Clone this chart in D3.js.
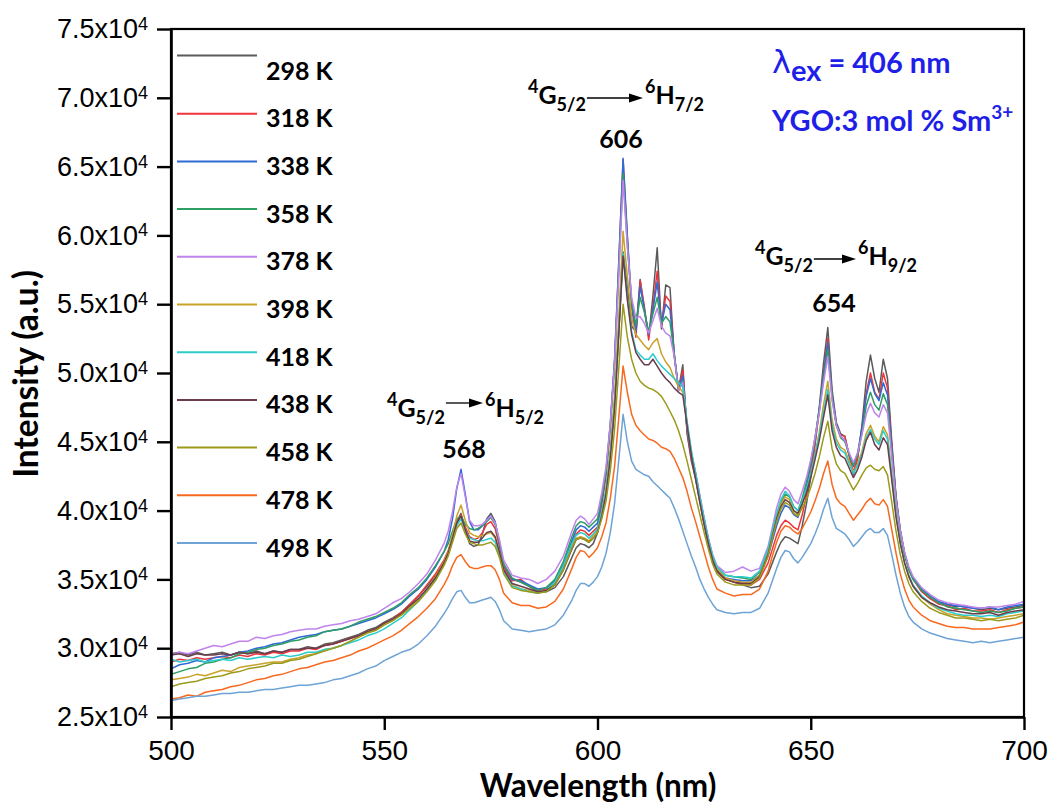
<!DOCTYPE html>
<html><head><meta charset="utf-8">
<script src="https://cdn.jsdelivr.net/npm/d3@7"></script>
<style>body{margin:0;background:#fff}</style>
</head><body>
<svg id="c" width="1051" height="804"></svg>
<script>
// ---------------- DATA ----------------
const wavelengths = [
 500,502,504,506,508,510,512,514,516,518,
 520,522,524,526,528,530,532,534,536,538,
 540,542,544,546,548,550,552,554,556,558,
 560,562,564,565,566,567,568,569,570,571,
 572,573,574,575,576,577,578,580,582,584,
 586,588,590,592,594,595,596,597,598,599,
 600,601,602,603,604,605,606,607,608,609,
 610,611,612,613,614,615,616,617,618,619,
 620,621,622,623,624,625,626,627,628,630,
 632,634,636,638,640,641,642,643,644,645,
 646,647,648,649,650,651,652,653,654,655,
 656,657,658,659,660,661,662,663,664,665,
 666,667,668,669,670,671,672,673,674,676,
 678,680,682,684,686,688,690,692,694,696,
 698,700];
const temperatures = ["298 K","318 K","338 K","358 K","378 K","398 K","418 K","438 K","458 K","478 K","498 K"];
const colors = ["#5a5a5a","#f0343c","#2f6ad6","#2e9e62","#c084ec","#c9a229","#2ccccc","#6b3d4c","#9b9a1c","#f8691f","#6ea3d6"];
// intensities in units of 10^3 counts
const i298 = [
 29.6,29.7,29.5,29.7,29.5,29.6,29.7,29.5,29.7,29.6,
 29.8,29.6,29.8,29.7,29.9,29.9,30.1,30.0,30.3,30.4,
 30.6,30.8,31.0,31.3,31.5,31.9,32.2,32.6,33.2,33.8,
 34.5,35.3,36.3,37.0,38.0,39.2,39.8,38.6,37.6,37.4,
 37.5,38.3,39.4,39.8,39.2,37.6,36.0,35.0,34.8,34.5,
 34.1,34.1,34.4,35.2,36.6,37.3,37.6,37.5,37.3,37.6,
 38.4,39.6,41.3,43.9,47.6,53.1,58.8,56.2,53.4,53.0,
 56.8,54.6,52.6,55.6,59.1,53.2,56.4,56.2,51.2,48.8,
 50.6,45.6,43.6,42.3,40.6,39.0,37.5,36.3,35.6,35.0,
 34.8,34.6,34.4,34.5,35.4,36.2,37.0,37.7,38.1,38.0,
 37.8,37.6,38.9,40.5,42.4,44.8,47.5,50.7,53.3,48.8,
 46.4,45.6,45.4,44.0,42.6,43.8,46.2,49.4,51.3,49.6,
 48.6,51.0,49.6,45.0,41.0,38.6,36.9,35.8,35.1,34.2,
 33.6,33.3,33.2,33.0,33.1,32.9,32.8,32.9,32.8,32.9,
 33.0,33.1];
const i318 = [
 29.0,29.2,29.1,29.3,29.2,29.3,29.4,29.3,29.5,29.4,
 29.6,29.5,29.7,29.6,29.8,29.8,30.0,29.9,30.2,30.3,
 30.5,30.7,30.9,31.2,31.4,31.8,32.1,32.6,33.2,33.8,
 34.6,35.4,36.4,37.1,38.1,39.2,39.7,38.8,38.1,37.9,
 38.0,38.4,39.0,39.2,38.7,37.4,35.9,34.9,35.0,34.5,
 34.2,34.3,34.8,36.0,37.6,38.3,38.6,38.5,38.2,38.5,
 38.8,40.4,42.5,46.0,50.8,58.0,65.5,59.8,54.8,52.6,
 56.7,54.8,52.4,54.8,57.4,53.4,55.6,55.2,51.3,48.8,
 50.2,45.8,43.8,42.5,40.8,39.2,37.7,36.5,35.7,35.0,
 34.8,34.7,34.6,35.0,36.2,37.2,38.2,38.9,39.3,39.1,
 38.8,38.6,39.7,41.1,42.8,44.9,47.2,50.0,52.5,48.4,
 46.2,45.5,45.4,44.0,42.8,43.9,45.9,48.5,50.0,48.6,
 48.1,50.0,48.9,44.7,40.9,38.5,36.8,35.7,35.0,34.1,
 33.6,33.2,33.1,32.8,32.9,32.7,32.7,32.8,32.6,32.8,
 32.9,33.0];
const i338 = [
 28.5,28.8,28.9,29.1,29.0,29.3,29.4,29.5,29.7,29.8,
 30.0,30.1,30.3,30.4,30.6,30.8,30.9,31.0,31.2,31.3,
 31.4,31.6,31.8,32.0,32.2,32.5,32.8,33.2,33.8,34.3,
 35.0,35.9,37.0,37.9,39.4,41.6,43.0,41.2,39.2,38.6,
 38.6,38.9,39.3,39.6,39.1,37.7,36.1,35.0,34.9,34.6,
 34.3,34.4,34.9,36.1,37.8,38.6,38.9,38.8,38.5,38.8,
 39.1,40.7,42.8,46.3,51.0,58.2,65.6,60.0,55.0,53.0,
 56.3,54.6,52.8,54.6,56.6,53.6,55.0,54.6,51.4,48.8,
 49.8,45.9,44.0,42.6,40.9,39.3,37.8,36.6,35.8,35.1,
 35.0,34.9,34.9,35.3,36.7,37.8,38.9,39.8,40.4,40.2,
 39.7,39.5,40.5,41.8,43.3,45.2,47.4,49.9,52.2,48.4,
 46.3,45.4,45.1,44.1,43.2,44.2,46.0,48.3,49.6,48.5,
 48.0,49.3,48.4,44.5,40.9,38.5,36.9,35.8,35.1,34.3,
 33.8,33.4,33.2,33.1,33.0,32.9,32.9,33.0,32.8,33.0,
 33.1,33.2];
const i358 = [
 28.1,28.3,28.5,28.6,28.9,29.0,29.2,29.3,29.6,29.7,
 29.9,30.0,30.2,30.3,30.5,30.6,30.8,30.9,31.2,31.3,
 31.4,31.6,31.9,32.1,32.3,32.6,32.9,33.3,33.9,34.4,
 35.1,36.0,37.0,37.6,38.5,39.4,39.6,39.0,38.7,38.6,
 38.7,38.9,39.2,39.5,39.0,37.7,36.1,35.1,34.8,34.5,
 34.2,34.4,35.0,36.3,38.1,38.9,39.2,39.1,38.8,39.1,
 39.4,40.9,42.9,46.2,50.7,57.5,64.5,59.3,55.2,53.5,
 55.5,54.4,53.0,54.3,55.5,53.6,54.1,53.7,51.4,48.7,
 49.4,46.0,44.1,42.7,41.0,39.4,37.9,36.7,35.9,35.3,
 35.2,35.1,35.0,35.5,37.1,38.4,39.7,40.6,41.2,41.0,
 40.3,40.0,40.9,42.1,43.5,45.3,47.3,49.6,51.7,48.2,
 46.2,45.3,45.0,44.1,43.3,44.1,45.6,47.6,48.6,47.7,
 47.3,48.5,47.7,44.1,40.7,38.4,36.8,35.7,35.0,34.2,
 33.7,33.3,33.0,32.9,32.8,32.7,32.6,32.7,32.6,32.7,
 32.9,33.0];
const i378 = [
 29.5,29.7,29.6,29.8,30.0,30.2,30.1,30.3,30.5,30.5,
 30.8,30.7,30.9,31.0,31.2,31.3,31.4,31.4,31.6,31.7,
 31.8,32.0,32.1,32.3,32.5,32.9,33.3,33.6,34.1,34.7,
 35.4,36.4,37.6,38.5,39.9,41.7,42.7,41.0,39.3,38.9,
 38.9,39.0,39.3,39.6,39.1,37.9,36.4,35.3,35.1,35.0,
 34.7,35.0,35.6,36.7,38.5,39.3,39.6,39.4,39.0,39.4,
 39.8,41.3,43.2,46.3,50.7,57.2,64.0,59.2,55.5,54.0,
 54.1,53.6,52.9,53.8,54.7,53.4,52.9,52.7,51.2,48.7,
 49.3,46.1,44.2,42.8,41.1,39.5,38.0,36.8,36.0,35.5,
 35.6,35.9,35.6,35.8,37.4,38.8,40.2,41.2,41.7,41.4,
 40.8,40.5,41.4,42.4,43.7,45.3,47.1,49.3,51.2,48.0,
 46.2,45.4,45.1,44.2,43.5,44.2,45.5,47.0,47.8,47.1,
 46.8,47.7,47.1,43.9,40.7,38.5,37.0,35.9,35.2,34.4,
 33.9,33.5,33.3,33.2,33.1,33.0,32.9,33.0,33.0,33.1,
 33.2,33.4];
const i398 = [
 27.7,27.8,27.9,28.1,28.0,28.2,28.4,28.3,28.6,28.7,
 28.8,28.9,29.0,29.0,29.2,29.3,29.5,29.6,29.9,30.0,
 30.2,30.5,30.8,31.1,31.3,31.7,32.0,32.5,33.0,33.5,
 34.3,35.2,36.3,37.0,38.2,39.6,40.4,39.3,38.4,38.2,
 38.1,38.2,38.3,38.4,38.0,37.0,35.7,34.6,34.3,34.2,
 34.0,34.2,34.7,35.9,37.4,38.0,38.1,38.0,37.8,38.2,
 38.6,39.9,41.6,44.5,48.4,54.2,60.3,57.0,54.0,52.8,
 52.4,52.0,51.7,52.2,52.5,51.4,50.8,50.4,49.6,49.0,
 48.6,46.4,44.3,42.5,40.8,39.2,37.8,36.6,35.8,35.1,
 34.9,34.8,34.8,35.3,36.9,38.2,39.5,40.5,41.0,40.8,
 40.0,39.7,40.5,41.4,42.6,44.1,45.7,47.7,49.4,46.6,
 45.2,44.6,44.4,43.6,42.8,43.4,44.3,45.6,46.2,45.4,
 45.0,46.1,45.5,42.7,39.8,37.7,36.2,35.2,34.5,33.7,
 33.2,32.8,32.5,32.4,32.3,32.2,32.2,32.1,32.2,32.3,
 32.4,32.5];
const i418 = [
 29.2,29.0,29.1,29.2,29.0,29.1,29.2,29.1,29.3,29.2,
 29.3,29.4,29.3,29.5,29.4,29.5,29.7,29.7,29.9,30.0,
 30.2,30.4,30.6,30.9,31.1,31.4,31.8,32.2,32.8,33.4,
 34.2,35.0,36.1,36.8,37.8,38.9,39.4,38.6,38.0,37.9,
 37.8,37.8,37.9,38.0,37.7,36.8,35.6,34.5,34.3,34.1,
 34.0,34.2,34.8,36.0,37.6,38.2,38.4,38.3,38.0,38.3,
 38.7,39.9,41.5,44.1,47.7,53.1,58.7,55.5,53.0,51.7,
 51.3,51.0,51.0,51.4,50.9,50.5,50.2,49.9,49.6,49.3,
 49.0,46.5,44.4,42.7,41.0,39.4,37.9,36.7,35.9,35.3,
 35.2,35.2,35.1,35.6,37.2,38.5,39.8,40.8,41.4,41.1,
 40.3,40.0,40.7,41.6,42.6,44.0,45.5,47.2,48.8,46.2,
 44.9,44.4,44.2,43.4,42.7,43.3,44.1,45.3,45.9,45.2,
 44.8,45.8,45.2,42.5,39.7,37.7,36.2,35.3,34.6,33.8,
 33.3,32.9,32.7,32.5,32.4,32.4,32.3,32.4,32.3,32.5,
 32.6,32.7];
const i438 = [
 29.5,29.6,29.4,29.6,29.5,29.5,29.6,29.5,29.7,29.6,
 29.7,29.6,29.8,29.7,29.9,29.9,30.0,30.0,30.2,30.3,
 30.5,30.7,30.9,31.2,31.4,31.8,32.1,32.5,33.1,33.6,
 34.3,35.1,36.2,36.9,38.0,39.1,39.6,38.6,37.8,37.7,
 37.7,38.0,38.4,38.5,38.1,37.0,35.7,34.7,34.5,34.3,
 34.1,34.2,34.6,35.7,37.2,37.9,38.0,37.9,37.7,38.0,
 38.4,39.6,41.2,43.8,47.4,52.9,58.5,55.3,52.8,51.5,
 51.0,50.6,50.6,51.0,50.5,50.0,49.6,49.3,48.9,48.6,
 48.4,46.2,44.0,42.3,40.6,39.0,37.6,36.4,35.6,35.0,
 34.8,34.7,34.7,35.2,36.8,38.1,39.4,40.3,40.8,40.6,
 40.0,39.8,40.5,41.3,42.4,43.7,45.1,46.8,48.4,45.8,
 44.6,44.0,43.8,43.1,42.4,43.0,43.9,45.1,45.7,44.8,
 44.4,45.3,44.8,42.2,39.5,37.6,36.2,35.2,34.5,33.7,
 33.3,33.0,32.8,32.7,32.6,32.5,32.5,32.6,32.4,32.6,
 32.7,32.8];
const i458 = [
 27.2,27.4,27.5,27.6,27.8,27.9,28.0,28.2,28.3,28.5,
 28.6,28.7,28.9,28.9,29.1,29.2,29.4,29.6,29.8,30.0,
 30.2,30.5,30.8,31.1,31.3,31.7,32.0,32.4,32.9,33.4,
 34.1,34.9,36.0,36.7,37.7,38.7,39.1,38.3,37.7,37.6,
 37.5,37.5,37.6,37.7,37.4,36.6,35.4,34.4,34.2,34.1,
 34.0,34.1,34.6,35.7,37.3,37.9,38.0,37.9,37.7,38.0,
 38.4,39.4,40.7,42.9,45.9,50.4,55.0,52.6,51.0,50.0,
 49.4,49.1,48.9,48.8,48.6,48.3,47.8,47.2,46.6,45.8,
 44.8,43.6,42.3,41.0,39.7,38.4,37.2,36.1,35.4,34.8,
 34.6,34.6,34.6,35.1,36.7,38.0,39.2,40.1,40.6,40.4,
 39.8,39.6,40.2,40.8,41.7,42.7,43.9,45.3,46.5,44.5,
 43.4,42.9,42.7,42.1,41.5,42.0,42.6,43.1,43.3,43.0,
 42.9,43.2,42.6,40.6,38.5,36.8,35.6,34.7,34.1,33.4,
 32.9,32.6,32.4,32.2,32.2,32.1,32.0,32.1,32.0,32.1,
 32.2,32.4];
const i478 = [
 26.3,26.4,26.6,26.5,26.8,26.9,27.0,27.2,27.3,27.5,
 27.7,27.8,28.0,28.1,28.3,28.5,28.6,28.8,29.0,29.1,
 29.3,29.5,29.8,30.0,30.3,30.6,30.9,31.3,31.8,32.3,
 32.9,33.6,34.6,35.2,36.0,36.6,36.8,36.3,35.9,35.8,
 35.8,35.9,36.0,36.0,35.7,35.0,34.0,33.3,33.1,33.1,
 32.9,33.0,33.4,34.3,35.8,36.6,37.1,37.0,36.6,36.9,
 37.3,38.1,39.1,40.9,43.2,46.8,50.5,48.6,47.0,46.2,
 45.8,45.5,45.2,45.1,44.9,44.6,44.5,44.3,43.8,43.1,
 42.4,41.4,40.2,39.2,38.1,37.0,35.9,35.0,34.3,34.0,
 33.8,33.9,33.9,34.3,35.6,36.7,37.7,38.5,38.9,38.8,
 38.5,38.3,38.7,39.3,39.9,40.7,41.6,42.7,43.6,41.9,
 40.9,40.5,40.3,39.8,39.3,39.7,40.1,40.6,40.9,40.5,
 40.4,40.8,40.3,38.6,36.9,35.4,34.3,33.5,33.0,32.4,
 32.0,31.8,31.6,31.5,31.5,31.4,31.4,31.4,31.5,31.6,
 31.7,31.9];
const i498 = [
 26.2,26.3,26.4,26.5,26.5,26.6,26.7,26.7,26.8,26.8,
 26.9,27.0,27.0,27.1,27.2,27.3,27.3,27.4,27.5,27.7,
 27.8,28.0,28.2,28.5,28.7,29.1,29.4,29.7,29.9,30.3,
 30.9,31.6,32.5,33.0,33.6,34.1,34.2,33.7,33.3,33.3,
 33.4,33.5,33.6,33.7,33.4,32.8,32.0,31.4,31.3,31.2,
 31.3,31.4,31.7,32.4,33.5,34.2,34.7,34.7,34.5,34.8,
 35.2,35.9,36.9,38.4,40.5,43.7,47.0,45.0,43.6,43.0,
 42.8,42.6,42.5,42.1,41.8,41.5,41.2,40.9,40.2,39.4,
 38.5,37.6,36.7,35.9,35.0,34.3,33.7,33.2,32.8,32.6,
 32.5,32.6,32.6,32.9,34.0,34.9,35.8,36.6,37.1,37.0,
 36.5,36.2,36.6,37.1,37.6,38.3,39.1,40.1,40.9,39.5,
 38.7,38.5,38.3,37.9,37.4,37.7,38.1,38.5,38.7,38.4,
 38.4,38.7,38.2,36.8,35.3,34.0,33.0,32.3,31.9,31.4,
 31.1,30.9,30.7,30.6,30.5,30.4,30.5,30.4,30.5,30.6,
 30.7,30.8];
const seriesValues = [i298,i318,i338,i358,i378,i398,i418,i438,i458,i478,i498];
const xTicks = [500,550,600,650,700];
const yTicks = [25000,30000,35000,40000,45000,50000,55000,60000,65000,70000,75000];
const yTickMantissa = ["2.5","3.0","3.5","4.0","4.5","5.0","5.5","6.0","6.5","7.0","7.5"];

// ---------------- CHART ----------------
const svg = d3.select("#c");
const m = {left:171, right:1024, top:29, bottom:717};
const x = d3.scaleLinear().domain([500,700]).range([m.left, m.right]);
const y = d3.scaleLinear().domain([25000,75000]).range([m.bottom, m.top]);
const sansB = "Lato, 'Open Sans', sans-serif";
const tickFont = "'Liberation Sans', Arial, sans-serif";

svg.append("defs").append("clipPath").attr("id","clip")
  .append("rect").attr("x",m.left).attr("y",m.top)
  .attr("width",m.right-m.left).attr("height",m.bottom-m.top);

const line = d3.line().x((d,i)=>x(wavelengths[i])).y(d=>y(d*1000));
const gl = svg.append("g").attr("clip-path","url(#clip)");
seriesValues.forEach((vals,k)=>{
  gl.append("path").attr("d",line(vals)).attr("fill","none")
    .attr("stroke",colors[k]).attr("stroke-width",1.5).attr("stroke-linejoin","round");
});

// frame
svg.append("rect").attr("x",m.left).attr("y",m.top)
  .attr("width",m.right-m.left).attr("height",m.bottom-m.top)
  .attr("fill","none").attr("stroke","#000").attr("stroke-width",2.2);

// x axis
const gx = svg.append("g").attr("transform",`translate(0,${m.bottom})`)
  .call(d3.axisBottom(x).tickValues(xTicks).tickSize(13).tickSizeOuter(0).tickPadding(10).tickFormat(d3.format("d")));
gx.select(".domain").attr("stroke-width",2.6);
gx.selectAll(".tick line").attr("stroke-width",2.4);
gx.selectAll(".tick text").attr("font-family",tickFont).attr("font-size",28).attr("fill","#000");

// y axis
const gy = svg.append("g").attr("transform",`translate(${m.left},0)`)
  .call(d3.axisLeft(y).tickValues(yTicks).tickSize(14).tickSizeOuter(0).tickPadding(9));
gy.select(".domain").attr("stroke-width",2.6);
gy.selectAll(".tick line").attr("stroke-width",2.4);
gy.selectAll(".tick text").each(function(d,i){
  const t = d3.select(this).text(null).attr("font-family",tickFont).attr("font-size",27).attr("fill","#000");
  t.append("tspan").text(yTickMantissa[i] + "x10");
  t.append("tspan").text("4").attr("font-size",18).attr("dy","-0.45em");
});

// axis titles
svg.append("text").attr("x",598).attr("y",797.2)
  .attr("text-anchor","middle").attr("font-family",sansB).attr("font-weight",700)
  .attr("font-size",31.5).text("Wavelength (nm)");
svg.append("text").attr("transform","translate(38,374) rotate(-90)")
  .attr("text-anchor","middle").attr("font-family",sansB).attr("font-weight",700)
  .attr("font-size",33.5).text("Intensity (a.u.)");

// legend
temperatures.forEach((t,i)=>{
  const rowY = 70.5 + i*47.7;
  const ly = rowY - (i===0 ? 15 : 4.5);
  svg.append("line").attr("x1",177).attr("x2",257).attr("y1",ly).attr("y2",ly)
    .attr("stroke",colors[i]).attr("stroke-width",2);
  svg.append("text").attr("x",266).attr("y",rowY+9)
    .attr("font-family",sansB).attr("font-weight",700).attr("font-size",25).text(t);
});

// transition annotations
function transition(xl, xr, base, arrowDy, subR, peakX, peakBase, peakLabel){
  const lt = svg.append("text").attr("x",xl).attr("y",base)
    .attr("font-family",sansB).attr("font-weight",700).attr("font-size",25);
  lt.append("tspan").text("4").attr("font-size",18).attr("dy",-11);
  lt.append("tspan").text("G").attr("dy",11);
  lt.append("tspan").text("5/2").attr("font-size",18).attr("dy",7);
  const lEnd = xl + lt.node().getComputedTextLength();
  const rt = svg.append("text").attr("x",xr).attr("y",base)
    .attr("font-family",sansB).attr("font-weight",700).attr("font-size",25);
  rt.append("tspan").text("6").attr("font-size",18).attr("dy",-11);
  rt.append("tspan").text("H").attr("dy",11);
  rt.append("tspan").text(subR).attr("font-size",18).attr("dy",7);
  const ay = base - arrowDy, x1 = lEnd + 1, x2 = xr - 2;
  svg.append("line").attr("x1",x1).attr("x2",x2-10).attr("y1",ay).attr("y2",ay)
    .attr("stroke","#000").attr("stroke-width",1.3);
  svg.append("path").attr("d",`M${x2-14},${ay-4.5}L${x2},${ay}L${x2-14},${ay+4.5}Z`).attr("fill","#000");
  svg.append("text").attr("x",peakX).attr("y",peakBase).attr("text-anchor","middle")
    .attr("font-family",sansB).attr("font-weight",700).attr("font-size",25).text(peakLabel);
}
transition(528, 645, 104, 6, "7/2", 621, 148, "606");
transition(755, 858, 265, 6, "9/2", 834, 312, "654");
transition(387, 485, 417, 14, "5/2", 464, 458, "568");

// excitation info
const blue = "#1f1fe8";
const t1 = svg.append("text").attr("x",772).attr("y",73).attr("fill",blue)
  .attr("font-family",sansB).attr("font-weight",700).attr("font-size",29);
t1.append("tspan").text("λ").attr("font-family","'DejaVu Sans', sans-serif").attr("font-weight",400).attr("font-size",32);
t1.append("tspan").text("ex").attr("dy",8);
t1.append("tspan").text(" = 406 nm").attr("dy",-8);
const t2 = svg.append("text").attr("x",772).attr("y",131).attr("fill",blue)
  .attr("font-family",sansB).attr("font-weight",700).attr("font-size",29);
t2.append("tspan").text("YGO:3 mol % Sm");
t2.append("tspan").text("3+").attr("font-size",19).attr("dy",-12);
</script>
</body></html>
